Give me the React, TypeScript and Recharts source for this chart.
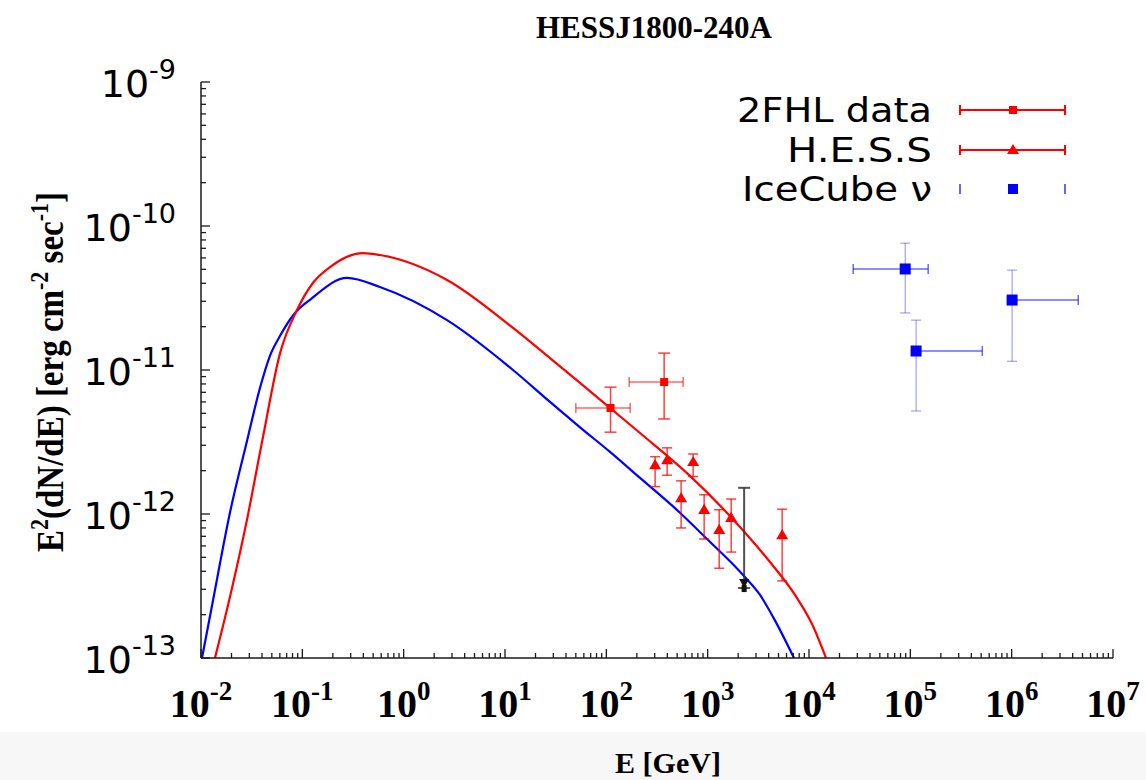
import React from 'react';
import { ComposedChart, Line, Scatter, XAxis, YAxis, ErrorBar, Customized } from 'recharts';

// Axis decades (exponents of ten) and minor multipliers
const xExponents = [-2, -1, 0, 1, 2, 3, 4, 5, 6, 7];
const yExponents = [-13, -12, -11, -10, -9];
const minorSteps = [2, 3, 4, 5, 6, 7, 8, 9];

// Model curves: [E (GeV), E^2 dN/dE]
const gammaModel: [number, number][] = [
  [0.01374, 1e-13], [0.0193, 2.65e-13], [0.0284, 9.08e-13], [0.0409, 3.43e-12],
  [0.0603, 1.31e-11], [0.0886, 2.61e-11], [0.127, 4.02e-11], [0.1875, 5.19e-11],
  [0.397, 6.49e-11], [0.583, 6.29e-11], [2.68, 4.22e-11], [12.0, 1.96e-11],
  [27.8, 1.21e-11], [55.0, 8.13e-12], [108.7, 5.45e-12], [215, 3.65e-12],
  [669, 1.84e-12], [2084, 8.13e-13], [4121, 4.64e-13], [7278, 2.74e-13],
  [10710, 1.72e-13], [14720, 1e-13],
];
const neutrinoModel: [number, number][] = [
  [0.01023, 1e-13], [0.01312, 2.5e-13], [0.0193, 1.02e-12], [0.0284, 3.2e-12],
  [0.0380, 7.4e-12], [0.0478, 1.25e-11], [0.0601, 1.72e-11], [0.0812, 2.4e-11],
  [0.123, 3.13e-11], [0.276, 4.36e-11], [0.583, 3.77e-11], [2.68, 2.22e-11],
  [12.0, 1.0e-11], [27.8, 6.0e-12], [55.0, 4.0e-12], [108.7, 2.7e-12],
  [215, 1.78e-12], [533, 1.02e-12], [986, 6.7e-13], [2234, 3.77e-13],
  [3288, 2.74e-13], [4416, 1.93e-13], [7112, 1e-13],
];

// 2FHL data
const fhlE = [110, 372];
const fhlELow = [50, 168];
const fhlEHigh = [172, 573];
const fhlF = [5.45e-12, 8.25e-12];
const fhlFLow = [3.7e-12, 4.57e-12];
const fhlFHigh = [7.6e-12, 1.31e-11];

// H.E.S.S. data
const hessE = [303, 398, 719, 547, 923, 1300, 1706, 5435];
const hessF = [2.19e-12, 2.37e-12, 2.3e-12, 1.29e-12, 1.07e-12, 7.76e-13, 9.4e-13, 7.15e-13];
const hessFLow = [1.55e-12, 1.86e-12, 1.82e-12, 8.0e-13, 6.7e-13, 4.2e-13, 5.44e-13, 3.43e-13];
const hessFHigh = [2.5e-12, 2.88e-12, 2.61e-12, 1.7e-12, 1.36e-12, 1.07e-12, 1.27e-12, 1.08e-12];

// H.E.S.S. upper limit
const ulE = [2290];
const ulTop = [1.52e-12];
const ulBottom = [3.06e-13];

// IceCube neutrino points
const icE = [8.9e4, 1.14e5, 1.01e6];
const icELow = [2.73e4, 1.14e5, 1.01e6];
const icEHigh = [1.5e5, 5.13e5, 4.54e6];
const icF = [5.03e-11, 1.355e-11, 3.06e-11];
const icFLow = [2.49e-11, 5.19e-12, 1.15e-11];
const icFHigh = [7.6e-11, 2.22e-11, 4.94e-11];

// Legend entries
const legendLabels = ['2FHL data', 'H.E.S.S', 'IceCube \u03bd'];
const legendKinds = ['fhl', 'hess', 'ic'];

const RED = '#ff0000';
const BLUE = '#0000ff';
const AXIS = '#1a1a1a';
const SERIF = '"Liberation Serif", "Times New Roman", serif';
const SANS = '"DejaVu Sans", Verdana, sans-serif';

const decadeTicks = (exps: number[]) => {
  const out: number[] = [];
  exps.forEach((p, i) => {
    out.push(Math.pow(10, p));
    if (i < exps.length - 1) minorSteps.forEach((m) => out.push(m * Math.pow(10, p)));
  });
  return out;
};
const xTicks = decadeTicks(xExponents);
const yTicks = decadeTicks(yExponents);

const curveRows = (pts: [number, number][]) => pts.map(([e, f]) => ({ e, f }));
const gammaRows = curveRows(gammaModel);
const nuRows = curveRows(neutrinoModel);

const fhlRows = fhlE.map((e, i) => ({
  e,
  f: fhlF[i],
  ex: [e - fhlELow[i], fhlEHigh[i] - e],
  ey: [fhlF[i] - fhlFLow[i], fhlFHigh[i] - fhlF[i]],
}));
const hessRows = hessE.map((e, i) => ({
  e,
  f: hessF[i],
  ey: [hessF[i] - hessFLow[i], hessFHigh[i] - hessF[i]],
}));
const ulRows = ulE.map((e, i) => ({ e, f: ulBottom[i], ey: [0, ulTop[i] - ulBottom[i]] }));
const icRows = icE.map((e, i) => ({
  e,
  f: icF[i],
  ex: [e - icELow[i], icEHigh[i] - e],
  ey: [icF[i] - icFLow[i], icFHigh[i] - icF[i]],
}));

// Tick geometry: the tick anchor sits TICK_SIZE + TICK_GAP away from the axis line
const TICK_SIZE = 6;
const TICK_GAP = 2;
const OFF = TICK_SIZE + TICK_GAP;
const MAJOR = 9;
const MINOR = 5;

const isMajor = (v: number) => {
  const lg = Math.log10(v);
  return Math.abs(lg - Math.round(lg)) < 1e-6;
};

const BottomTick = (props: any) => {
  const { x, payload } = props;
  const y = props.y - OFF;
  const major = isMajor(payload.value);
  const exp = Math.round(Math.log10(payload.value));
  return (
    <g>
      <line x1={x} y1={y} x2={x} y2={y - (major ? MAJOR : MINOR)} stroke={AXIS} strokeWidth={1.3} />
      {major && (
        <text x={x} y={y + 59} textAnchor="middle" fontFamily={SERIF} fontWeight="bold" fill="#000">
          <tspan fontSize={40}>10</tspan>
          <tspan fontSize={27} dy={-17}>{String(exp)}</tspan>
        </text>
      )}
    </g>
  );
};

const TopTick = (props: any) => {
  const { x, payload } = props;
  const y = props.y + OFF;
  const major = isMajor(payload.value);
  return <line x1={x} y1={y} x2={x} y2={y + (major ? MAJOR : MINOR)} stroke={AXIS} strokeWidth={1.3} />;
};

const LeftTick = (props: any) => {
  const { y, payload } = props;
  const x = props.x + OFF;
  const major = isMajor(payload.value);
  const exp = Math.round(Math.log10(payload.value));
  return (
    <g>
      <line x1={x} y1={y} x2={x + (major ? MAJOR : MINOR)} y2={y} stroke={AXIS} strokeWidth={1.3} />
      {major && (
        <text x={x - 25} y={y + 15} textAnchor="end" fontFamily={SANS} fill="#000">
          <tspan fontSize={38}>10</tspan>
          <tspan fontSize={27} dy={-18}>{String(exp)}</tspan>
        </text>
      )}
    </g>
  );
};

const RightTick = (props: any) => {
  const { y, payload } = props;
  const x = props.x - OFF;
  const major = isMajor(payload.value);
  return <line x1={x} y1={y} x2={x - (major ? MAJOR : MINOR)} y2={y} stroke={AXIS} strokeWidth={1.3} />;
};

const SquareMark = (size: number, color: string) => (props: any) => {
  const { cx, cy } = props;
  return <rect x={cx - size / 2} y={cy - size / 2} width={size} height={size} fill={color} />;
};

const TriangleMark = (props: any) => {
  const { cx, cy } = props;
  const s = 6;
  return <polygon points={`${cx},${cy - s} ${cx - s},${cy + s * 0.7} ${cx + s},${cy + s * 0.7}`} fill={RED} />;
};

const ArrowMark = (props: any) => {
  const { cx, cy } = props;
  return (
    <g>
      <polygon points={`${cx - 5},${cy - 9} ${cx + 5},${cy - 9} ${cx},${cy}`} fill="#111" />
      <rect x={cx - 2.5} y={cy - 3} width={5} height={7} fill="#111" />
    </g>
  );
};

// Legend layout
const LEGEND_ROW_Y = [110, 150, 189];
const LEGEND_TEXT_LEN = [195, 145, 190];

const Annotations = () => (
  <g>
    <text x={654} y={38} textAnchor="middle" fontFamily={SERIF} fontWeight="bold" fontSize={31} fill="#000">
      HESSJ1800-240A
    </text>
    <text x={668} y={773} textAnchor="middle" fontFamily={SERIF} fontWeight="bold" fontSize={30} fill="#000">
      E [GeV]
    </text>
    <g transform="translate(63, 372) scale(1.15, 1) rotate(-90)">
      <text x={0} y={0} textAnchor="middle" fontFamily={SERIF} fontWeight="bold" fontSize={33} fill="#000">
        E<tspan fontSize={22} dy={-13}>2</tspan>
        <tspan dy={13}>(dN/dE) [erg cm</tspan>
        <tspan fontSize={22} dy={-13}>-2</tspan>
        <tspan dy={13}> sec</tspan>
        <tspan fontSize={22} dy={-13}>-1</tspan>
        <tspan dy={13}>]</tspan>
      </text>
    </g>
    {legendLabels.map((label, i) => {
      const y = LEGEND_ROW_Y[i];
      const kind = legendKinds[i];
      return (
        <g key={kind}>
          <text
            x={932}
            y={y + 12}
            textAnchor="end"
            fontFamily={SANS}
            fontSize={34}
            textLength={LEGEND_TEXT_LEN[i]}
            lengthAdjust="spacingAndGlyphs"
            fill="#000"
          >
            {label}
          </text>
          {kind !== 'ic' ? (
            <g stroke={RED} strokeWidth={2}>
              <line x1={960} y1={y} x2={1065} y2={y} />
              <line x1={960} y1={y - 5} x2={960} y2={y + 5} />
              <line x1={1065} y1={y - 5} x2={1065} y2={y + 5} />
            </g>
          ) : (
            <g stroke={BLUE} strokeWidth={2} strokeOpacity={0.6}>
              <line x1={960} y1={y - 5} x2={960} y2={y + 5} />
              <line x1={1065} y1={y - 5} x2={1065} y2={y + 5} />
            </g>
          )}
          {kind === 'fhl' && <rect x={1009} y={y - 4} width={8} height={8} fill={RED} />}
          {kind === 'hess' && <polygon points={`1013,${y - 6} 1007,${y + 4} 1019,${y + 4}`} fill={RED} />}
          {kind === 'ic' && <rect x={1008} y={y - 5} width={10} height={10} fill={BLUE} />}
        </g>
      );
    })}
  </g>
);

const axisCommon = {
  type: 'number' as const,
  scale: 'log' as const,
  allowDataOverflow: true,
  interval: 0 as const,
  tickSize: TICK_SIZE,
  tickMargin: TICK_GAP,
  tickLine: false,
};

export default function App() {
  return (
    <div style={{ position: 'absolute', left: 0, top: 0, width: 1146, height: 780, background: '#ffffff' }}>
      <div style={{ position: 'absolute', left: 0, top: 732, width: 1146, height: 48, background: '#f7f7f7' }} />
      <div style={{ position: 'absolute', left: 0, top: 0 }}>
        <ComposedChart width={1146} height={780} margin={{ top: 82, right: 33, bottom: 0, left: 0 }}>
          <XAxis
            {...axisCommon}
            xAxisId="x"
            dataKey="e"
            domain={[1e-2, 1e7]}
            ticks={xTicks}
            height={122}
            tick={<BottomTick />}
            axisLine={{ stroke: AXIS, strokeWidth: 1.5 }}
          />
          <XAxis
            {...axisCommon}
            xAxisId="xt"
            orientation="top"
            domain={[1e-2, 1e7]}
            ticks={xTicks}
            height={0}
            tick={<TopTick />}
            axisLine={{ stroke: AXIS, strokeWidth: 1.5 }}
          />
          <YAxis
            {...axisCommon}
            yAxisId="y"
            dataKey="f"
            domain={[1e-13, 1e-9]}
            ticks={yTicks}
            width={201}
            tick={<LeftTick />}
            axisLine={{ stroke: AXIS, strokeWidth: 1.5 }}
          />
          <YAxis
            {...axisCommon}
            yAxisId="yr"
            orientation="right"
            domain={[1e-13, 1e-9]}
            ticks={yTicks}
            width={0}
            tick={<RightTick />}
            axisLine={{ stroke: AXIS, strokeWidth: 2 }}
          />

          <Line
            data={nuRows}
            xAxisId="x"
            yAxisId="y"
            dataKey="f"
            type="monotone"
            stroke={BLUE}
            strokeWidth={2.2}
            dot={false}
            activeDot={false}
            isAnimationActive={false}
          />
          <Line
            data={gammaRows}
            xAxisId="x"
            yAxisId="y"
            dataKey="f"
            type="monotone"
            stroke={RED}
            strokeWidth={2.2}
            dot={false}
            activeDot={false}
            isAnimationActive={false}
          />

          <Scatter data={fhlRows} xAxisId="x" yAxisId="y" dataKey="f" shape={SquareMark(8, RED)} isAnimationActive={false}>
            <ErrorBar dataKey="ex" direction="x" width={5} stroke={RED} strokeWidth={1.5} strokeOpacity={0.6} />
            <ErrorBar dataKey="ey" direction="y" width={6} stroke={RED} strokeWidth={1.5} strokeOpacity={0.75} />
          </Scatter>
          <Scatter data={hessRows} xAxisId="x" yAxisId="y" dataKey="f" shape={TriangleMark} isAnimationActive={false}>
            <ErrorBar dataKey="ey" direction="y" width={5} stroke={RED} strokeWidth={1.5} strokeOpacity={0.75} />
          </Scatter>
          <Scatter data={ulRows} xAxisId="x" yAxisId="y" dataKey="f" shape={ArrowMark} isAnimationActive={false}>
            <ErrorBar dataKey="ey" direction="y" width={6} stroke="#333" strokeWidth={2} strokeOpacity={0.85} />
          </Scatter>
          <Scatter data={icRows} xAxisId="x" yAxisId="y" dataKey="f" shape={SquareMark(11, BLUE)} isAnimationActive={false}>
            <ErrorBar dataKey="ex" direction="x" width={5} stroke={BLUE} strokeWidth={1.5} strokeOpacity={0.6} />
            <ErrorBar dataKey="ey" direction="y" width={5} stroke={BLUE} strokeWidth={1} strokeOpacity={0.45} />
          </Scatter>

          <Customized component={<Annotations />} />
        </ComposedChart>
      </div>
    </div>
  );
}
